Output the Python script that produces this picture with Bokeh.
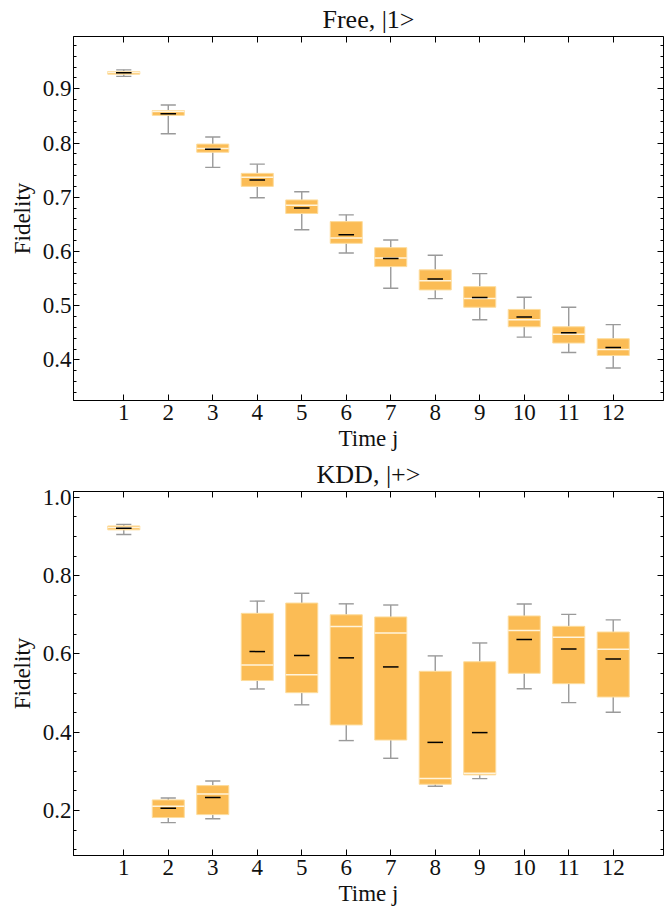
from bokeh.plotting import figure
from bokeh.layouts import column
from bokeh.models import (Range1d, FixedTicker, LinearAxis, PrintfTickFormatter,
                          CustomJSTickFormatter, ColumnDataSource)
from bokeh.embed import file_html
from bokeh.resources import INLINE

# ---------------- data ----------------
times = [1, 2, 3, 4, 5, 6, 7, 8, 9, 10, 11, 12]

free_lo = [0.923, 0.817, 0.755, 0.699, 0.640, 0.597, 0.532, 0.513, 0.474, 0.442, 0.4135, 0.385]
free_q1 = [0.927, 0.851, 0.783, 0.720, 0.670, 0.615, 0.572, 0.529, 0.497, 0.461, 0.431, 0.408]
free_med = [0.930, 0.858, 0.790, 0.737, 0.685, 0.625, 0.588, 0.546, 0.513, 0.474, 0.447, 0.419]
free_mean = [0.9295, 0.854, 0.7886, 0.732, 0.680, 0.631, 0.587, 0.549, 0.515, 0.479, 0.450, 0.423]
free_q3 = [0.932, 0.860, 0.798, 0.744, 0.695, 0.655, 0.607, 0.566, 0.535, 0.493, 0.461, 0.439]
free_hi = [0.935, 0.870, 0.811, 0.761, 0.710, 0.6675, 0.621, 0.593, 0.559, 0.5155, 0.497, 0.465]

kdd_lo = [0.905, 0.169, 0.179, 0.5105, 0.470, 0.3786, 0.3334, 0.262, 0.2815, 0.511, 0.4756, 0.451]
kdd_q1 = [0.917, 0.182, 0.1895, 0.532, 0.501, 0.4186, 0.380, 0.267, 0.291, 0.5505, 0.524, 0.490]
kdd_med = [0.923, 0.211, 0.2424, 0.572, 0.547, 0.670, 0.6536, 0.2815, 0.295, 0.660, 0.6424, 0.612]
kdd_mean = [0.921, 0.206, 0.233, 0.606, 0.596, 0.590, 0.5668, 0.374, 0.399, 0.637, 0.6127, 0.587]
kdd_q3 = [0.927, 0.227, 0.2636, 0.7037, 0.730, 0.700, 0.6945, 0.5556, 0.580, 0.697, 0.6705, 0.656]
kdd_hi = [0.931, 0.232, 0.2755, 0.735, 0.755, 0.728, 0.725, 0.595, 0.628, 0.7277, 0.701, 0.687]

free_yticks = [0.4, 0.5, 0.6, 0.7, 0.8, 0.9]
kdd_yticks = [0.2, 0.4, 0.6, 0.8, 1.0]

FONT = "Liberation Serif"
BOX_W = 0.72
CAP_W = 0.34
MEAN_W = 0.35
X0, X1 = -0.13, 13.13


def make_plot(title, lo, q1, med, mean, q3, hi, yr, yticks, yminor, frame_h,
              border_top, border_bottom):
    p = figure(frame_width=590, frame_height=frame_h, output_backend="svg",
               toolbar_location=None,
               x_range=Range1d(X0, X1), y_range=Range1d(*yr),
               min_border_left=73, min_border_right=3,
               min_border_top=border_top, min_border_bottom=border_bottom,
               title=title)
    p.title.text_font = FONT
    p.title.text_font_size = "26px"
    p.title.text_font_style = "normal"
    p.title.align = "center"
    p.title.text_color = "#111111"
    p.title.standoff = 5
    p.title.offset = 0
    p.grid.visible = False
    p.outline_line_color = "black"
    p.outline_line_width = 1

    src = ColumnDataSource(dict(
        x=times, lo=lo, q1=q1, med=med, mean=mean, q3=q3, hi=hi,
        cl=[t - CAP_W / 2 for t in times], cr=[t + CAP_W / 2 for t in times],
        bl=[t - BOX_W / 2 for t in times], br=[t + BOX_W / 2 for t in times],
        ml=[t - MEAN_W / 2 for t in times], mr=[t + MEAN_W / 2 for t in times],
    ))
    wc = "#9a9a9a"
    p.segment(x0="x", y0="q3", x1="x", y1="hi", source=src, line_color=wc, line_width=1.4)
    p.segment(x0="x", y0="q1", x1="x", y1="lo", source=src, line_color=wc, line_width=1.4)
    p.segment(x0="cl", y0="hi", x1="cr", y1="hi", source=src, line_color=wc, line_width=1.4)
    p.segment(x0="cl", y0="lo", x1="cr", y1="lo", source=src, line_color=wc, line_width=1.4)
    p.vbar(x="x", width=BOX_W, bottom="q1", top="q3", source=src,
           fill_color="#FBBC55", line_color="#FDDC9C", line_width=1)
    p.segment(x0="bl", y0="med", x1="br", y1="med", source=src,
              line_color="#FFF4DC", line_width=1.5)
    p.segment(x0="ml", y0="mean", x1="mr", y1="mean", source=src,
              line_color="black", line_width=1.5)

    xt = FixedTicker(ticks=times, minor_ticks=[])
    yt = FixedTicker(ticks=yticks, minor_ticks=yminor)

    bottom_ax = p.below[0]
    left_ax = p.left[0]

    bottom_ax.ticker = xt
    bottom_ax.axis_label = "Time j"
    bottom_ax.major_label_standoff = 4
    bottom_ax.axis_label_standoff = 3

    left_ax.ticker = yt
    left_ax.axis_label = "Fidelity"
    left_ax.formatter = PrintfTickFormatter(format="%.1f")
    left_ax.major_label_standoff = 2
    left_ax.axis_label_standoff = 5

    blank = CustomJSTickFormatter(code="return ''")
    top_ax = LinearAxis(ticker=xt, fixed_location=yr[1], formatter=blank)
    right_ax = LinearAxis(ticker=yt, fixed_location=X1, formatter=blank)
    p.add_layout(top_ax, "above")
    p.add_layout(right_ax, "right")

    for ax in [bottom_ax, left_ax, top_ax, right_ax]:
        ax.axis_line_color = "black"
        ax.major_tick_line_color = "black"
        ax.minor_tick_line_color = "black"
        ax.major_tick_in = 6
        ax.major_tick_out = 0
        ax.minor_tick_in = 3
        ax.minor_tick_out = 0
        ax.major_label_text_font = FONT
        ax.major_label_text_font_size = "23px"
        ax.major_label_text_color = "#111111"
        ax.axis_label_text_font = FONT
        ax.axis_label_text_font_style = "normal"
        ax.axis_label_text_font_size = "23px"
        ax.axis_label_text_color = "#111111"
    p.background_fill_color = "white"
    p.border_fill_color = "white"
    return p


free_minor = [round(0.32 + 0.02 * i, 2) for i in range(34)]
kdd_minor = [round(0.1 + 0.05 * i, 2) for i in range(19)]

p1 = make_plot("Free, |1>", free_lo, free_q1, free_med, free_mean, free_q3, free_hi,
               (0.325, 0.9965), free_yticks, free_minor, 364, 36, 55)
p2 = make_plot("KDD, |+>", kdd_lo, kdd_q1, kdd_med, kdd_mean, kdd_q3, kdd_hi,
               (0.085, 1.015), kdd_yticks, kdd_minor, 364, 36, 52)

layout = column(p1, p2, spacing=0)
open("out.html", "w").write(file_html(layout, INLINE))
